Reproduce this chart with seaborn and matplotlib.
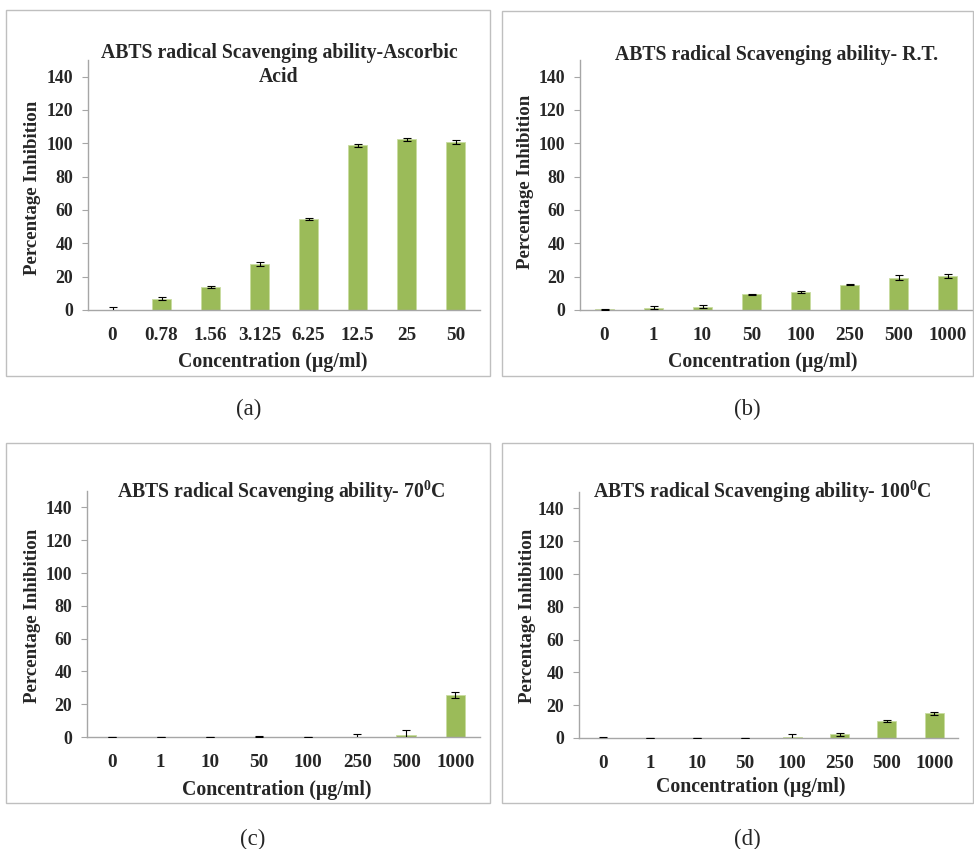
import matplotlib
matplotlib.use("Agg")
import matplotlib.pyplot as plt
import seaborn as sns
import numpy as np
from matplotlib.patches import Rectangle

sns.set_theme(style="white")
plt.rcParams['font.family'] = ['Liberation Serif', 'DejaVu Serif']
plt.rcParams['mathtext.fontset'] = 'custom'
plt.rcParams['mathtext.rm'] = 'Liberation Serif:bold'
plt.rcParams['mathtext.bf'] = 'Liberation Serif:bold'
plt.rcParams['mathtext.it'] = 'Liberation Serif:bold'

# ---- data ----
conc_a = ["0", "0.78", "1.56", "3.125", "6.25", "12.5", "25", "50"]
conc_bcd = ["0", "1", "10", "50", "100", "250", "500", "1000"]

inhib_a = [0.0, 6.8, 14.0, 27.5, 54.7, 98.8, 102.3, 100.8]
err_a = [2.0, 0.7, 0.6, 1.2, 0.5, 1.0, 0.9, 1.0]

inhib_b = [0.3, 1.3, 1.8, 9.4, 10.8, 15.1, 19.2, 20.2]
err_b = [0.2, 1.0, 0.9, 0.4, 0.5, 0.4, 1.5, 1.3]

inhib_c = [0.1, 0.1, 0.1, 0.2, 0.1, 0.3, 1.4, 25.6]
err_c = [0.2, 0.1, 0.1, 0.2, 0.1, 1.3, 3.0, 1.8]

inhib_d = [0.2, 0.1, 0.1, 0.1, 0.5, 2.2, 10.1, 15.1]
err_d = [0.6, 0.1, 0.1, 0.1, 2.2, 0.8, 0.6, 0.8]

titles = ["ABTS radical Scavenging ability-Ascorbic\nAcid",
          "ABTS radical Scavenging ability- R.T.",
          r"ABTS radical Scavenging ability- 70$^{\mathrm{0}}$C",
          r"ABTS radical Scavenging ability- 100$^{\mathrm{0}}$C"]
captions = ["(a)", "(b)", "(c)", "(d)"]
yticks = [0, 20, 40, 60, 80, 100, 120, 140]

W, H = 974, 849
fig = plt.figure(figsize=(W / 100, H / 100), dpi=100)

BAR = "#9BBB59"
SPINE = "#A6A6A6"

panels = [
    dict(cats=conc_a, vals=inhib_a, errs=err_a, ax=(88, 480, 310, 60), box=(6, 10, 490, 376),
         cap=(249, 409), title=(279, 65), xl=(273, 362), yl=(33, 188)),
    dict(cats=conc_bcd, vals=inhib_b, errs=err_b, ax=(580, 972, 310, 60), box=(502, 11, 973, 376),
         cap=(747, 409), title=(777, 55), xl=(763, 362), yl=(525, 182)),
    dict(cats=conc_bcd, vals=inhib_c, errs=err_c, ax=(87, 480, 737, 491), box=(6, 443, 490, 803),
         cap=(253, 839), title=(281, 492), xl=(277, 790), yl=(33, 616)),
    dict(cats=conc_bcd, vals=inhib_d, errs=err_d, ax=(579, 958, 738, 492), box=(502, 443, 973, 803),
         cap=(747, 839), title=(762, 492), xl=(751, 787), yl=(527, 616)),
]

for i, p in enumerate(panels):
    x0, y0, x1, y1 = p["box"]
    fig.patches.append(Rectangle((x0 / W, 1 - y1 / H), (x1 - x0) / W, (y1 - y0) / H,
                                 transform=fig.transFigure, fill=False,
                                 edgecolor="#BFBFBF", linewidth=1.0, zorder=0))
    l, r, b, t = p["ax"]
    ax = fig.add_axes([l / W, 1 - b / H, (r - l) / W, (b - t) / H])
    sns.barplot(x=p["cats"], y=p["vals"], order=p["cats"], color=BAR, saturation=1,
                width=0.4, ax=ax, edgecolor="#C9DCA0", linewidth=0.6, errorbar=None)
    ax.errorbar(np.arange(len(p["cats"])), p["vals"], yerr=p["errs"], fmt="none",
                ecolor="black", elinewidth=0.8, capsize=2.6, capthick=0.8, zorder=5)
    ax.set_xlim(-0.5, len(p["cats"]) - 0.5)
    ax.set_ylim(0, 150)
    ax.set_yticks(yticks)
    for s in ["top", "right"]:
        ax.spines[s].set_visible(False)
    for s in ["left", "bottom"]:
        ax.spines[s].set_color(SPINE)
        ax.spines[s].set_linewidth(1.0)
    ax.tick_params(axis="y", which="major", left=True, length=4.5, width=0.8,
                   color=SPINE, pad=6, labelsize=12.8)
    ax.tick_params(axis="x", which="major", bottom=False, length=0, pad=12, labelsize=13.8)
    for lab in ax.get_xticklabels() + ax.get_yticklabels():
        lab.set_fontweight("bold")
    ax.set_xlabel("Concentration (µg/ml)", fontsize=14.3, fontweight="bold")
    ax.set_ylabel("Percentage Inhibition", fontsize=13.6, fontweight="bold")
    ax.xaxis.label.set_va("center")
    ax.yaxis.label.set_va("center")
    ax.xaxis.set_label_coords(p["xl"][0] / W, 1 - p["xl"][1] / H, transform=fig.transFigure)
    ax.yaxis.set_label_coords(p["yl"][0] / W, 1 - p["yl"][1] / H, transform=fig.transFigure)
    ax.set_facecolor("none")
    ax.grid(False)
    fig.text(p["title"][0] / W, 1 - p["title"][1] / H, titles[i], ha="center", va="center",
             fontsize=14.2, fontweight="bold", linespacing=1.3)
    fig.text(p["cap"][0] / W, 1 - p["cap"][1] / H, captions[i], ha="center", va="center",
             fontsize=16.5)

fig.savefig("out.png", dpi=100, facecolor="white")
